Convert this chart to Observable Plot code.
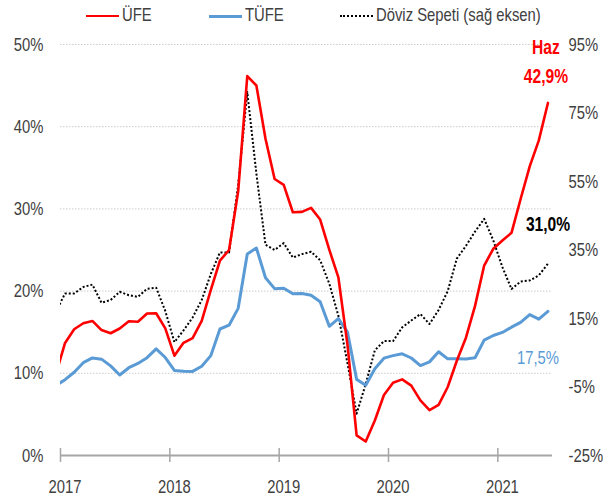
<!DOCTYPE html>
<html>
<head>
<meta charset="utf-8">
<script src="https://cdn.jsdelivr.net/npm/d3@7"></script>
<script src="https://cdn.jsdelivr.net/npm/@observablehq/plot@0.6"></script>
<style>
  html, body { margin: 0; padding: 0; background: #fff; }
  body { font-family: "Liberation Sans", Arial, sans-serif; }
  #legend { position: relative; width: 614px; height: 30px; font-size: 19px; color: #404040; }
  #legend .sw { position: absolute; top: 15px; width: 33px; }
  #legend .lb { position: absolute; top: 4px; line-height: 22px; white-space: nowrap; transform: scaleX(0.78); transform-origin: 0 50%; }
  #chart svg { display: block; }
</style>
</head>
<body>
<div id="legend"></div>
<div id="chart"></div>
<script>
// Monthly annual changes (%), Dec 2016 .. Jun 2021
const firstMonthIndex = -1; // Dec 2016, with Jan 2017 = 0
const ufe = [9.94,
  13.69, 15.36, 16.09, 16.37, 15.26, 14.87, 15.45, 16.34, 16.28, 17.28, 17.30, 15.47,
  12.14, 13.71, 14.28, 16.37, 20.16, 23.71, 25.00, 32.13, 46.15, 45.01, 38.54, 33.64,
  32.93, 29.59, 29.64, 30.12, 28.71, 25.04, 21.66, 13.45, 2.45, 1.70, 4.26, 7.36,
  8.84, 9.26, 8.50, 6.71, 5.53, 6.17, 8.33, 11.53, 14.33, 18.20, 23.11, 25.15,
  26.16, 27.09, 31.20, 35.17, 38.33, 42.89];
const tufe = [8.53,
  9.22, 10.13, 11.29, 11.87, 11.72, 10.90, 9.79, 10.68, 11.20, 11.90, 12.98, 11.92,
  10.35, 10.26, 10.23, 10.85, 12.15, 15.39, 15.85, 17.90, 24.52, 25.24, 21.62, 20.30,
  20.35, 19.67, 19.71, 19.50, 18.71, 15.72, 16.65, 15.01, 9.26, 8.55, 10.56, 11.84,
  12.15, 12.37, 11.86, 10.94, 11.39, 12.62, 11.76, 11.77, 11.75, 11.89, 14.03, 14.60,
  14.97, 15.61, 16.19, 17.14, 16.59, 17.53];
// Döviz Sepeti, right-axis units
const dovizSepeti = [17.0,
  22.3, 22.3, 24.2, 24.9, 19.6, 20.4, 22.8, 21.8, 21.3, 23.7, 24.0, 17.2,
  8.1, 11.5, 15.3, 20.4, 28.0, 34.3, 34.3, 54.0, 81.1, 57.3, 36.5, 35.0,
  37.0, 32.8, 33.8, 34.5, 32.0, 25.2, 15.8, 1.9, -12.8, -4.1, 5.7, 8.4,
  8.4, 12.4, 14.4, 16.3, 13.4, 17.5, 23.0, 32.5, 36.2, 40.4, 44.1, 37.8,
  30.0, 23.6, 25.8, 26.1, 27.6, 31.0];

const years = ["2017", "2018", "2019", "2020", "2021"];
const leftTicks = [0, 10, 20, 30, 40, 50];
const rightTicks = [-25, -5, 15, 35, 55, 75, 95];
const seriesNames = ["ÜFE", "TÜFE", "Döviz Sepeti (sağ eksen)"];
const lastLabel = "Haz";

const RED = "#ff0000", BLUE = "#5b9bd5", BLACK = "#000000";
const FONT = '"Liberation Sans", Arial, sans-serif';
const NARROW = 0.78; // horizontal squeeze to mimic a narrow face

// right axis [-25, 95] <-> left axis [0, 50]
const toLeft = r => (r - rightTicks[0]) * (leftTicks[leftTicks.length - 1] - leftTicks[0]) / (rightTicks[rightTicks.length - 1] - rightTicks[0]);
const toRight = l => rightTicks[0] + l * (rightTicks[rightTicks.length - 1] - rightTicks[0]) / (leftTicks[leftTicks.length - 1] - leftTicks[0]);

const rows = ufe.map((v, i) => ({t: firstMonthIndex + i, ufe: v, tufe: tufe[i], doviz: dovizSepeti[i]}));
const yearTicks = years.map((y, i) => i * 12);
const yearBounds = yearTicks.map(t => t - 0.5);
const last = rows[rows.length - 1];
const fmt = v => v.toFixed(1).replace(".", ",") + "%";

// Legend
const legend = document.getElementById("legend");
const items = [
  {name: seriesNames[0], x: 86, css: `border-top: 2.6px solid ${RED};`},
  {name: seriesNames[1], x: 209, css: `border-top: 3px solid ${BLUE};`},
  {name: seriesNames[2], x: 340, css: `border-top: 2px dotted ${BLACK};`}
];
for (const it of items) {
  const sw = document.createElement("div");
  sw.className = "sw";
  sw.style.cssText = `left:${it.x}px;` + it.css;
  legend.appendChild(sw);
  const lb = document.createElement("div");
  lb.className = "lb";
  lb.style.left = (it.x + 36) + "px";
  lb.textContent = it.name;
  legend.appendChild(lb);
}

const chart = Plot.plot({
  width: 614,
  height: 472,
  marginLeft: 60,
  marginRight: 62,
  marginTop: 14,
  marginBottom: 47,
  x: {domain: [-0.5, 53.5], label: null},
  y: {domain: [leftTicks[0], leftTicks[leftTicks.length - 1]], label: null},
  style: {fontFamily: FONT, fontSize: "19px", color: "#404040", background: "#fff", overflow: "visible"},
  marks: [
    Plot.ruleY(leftTicks.slice(1), {stroke: "#cccccc", strokeWidth: 1, strokeDasharray: "1.5 1.5"}),
    Plot.ruleY([0], {stroke: "#a6a6a6", strokeWidth: 1.8}),
    Plot.ruleX(yearBounds, {y1: -0.85, y2: 0.85, stroke: "#a6a6a6", strokeWidth: 1.5}),
    Plot.axisY({anchor: "left", ticks: leftTicks, tickSize: 0, tickPadding: 17, label: null, tickFormat: d => d + "%"}),
    Plot.axisY({anchor: "right", ticks: rightTicks.map(toLeft), tickSize: 0, tickPadding: 16, label: null,
      tickFormat: d => Math.round(toRight(d)) + "%"}),
    Plot.axisX({ticks: yearTicks, tickSize: 0, tickPadding: 24, label: null, tickFormat: d => years[yearTicks.indexOf(d)]}),
    Plot.line(rows, {x: "t", y: d => toLeft(d.doviz), stroke: BLACK, strokeWidth: 2, strokeDasharray: "2 2", strokeLinecap: "butt", clip: true}),
    Plot.line(rows, {x: "t", y: "tufe", stroke: BLUE, strokeWidth: 3, clip: true}),
    Plot.line(rows, {x: "t", y: "ufe", stroke: RED, strokeWidth: 2.6, clip: true}),
    Plot.text([last], {x: "t", y: "ufe", text: () => lastLabel, dx: -2, dy: -55, fill: RED, fontWeight: "bold", fontSize: 20}),
    Plot.text([last], {x: "t", y: "ufe", text: d => fmt(d.ufe), dx: -2, dy: -26, fill: RED, fontWeight: "bold", fontSize: 20}),
    Plot.text([last], {x: "t", y: d => toLeft(d.doviz), text: d => fmt(d.doviz), textAnchor: "start", dx: -22, dy: -39, fill: BLACK, fontWeight: "bold", fontSize: 20}),
    Plot.text([last], {x: "t", y: "tufe", text: d => fmt(d.tufe), dx: -10, dy: 47, fill: BLUE, fontSize: 19})
  ]
});

// squeeze every text horizontally around its own anchor point
chart.querySelectorAll("text").forEach(t => {
  const tr = t.getAttribute("transform");
  if (tr) {
    t.setAttribute("transform", tr + ` scale(${NARROW},1)`);
  } else {
    const x = +(t.getAttribute("x") || 0), y = +(t.getAttribute("y") || 0);
    t.setAttribute("transform", `translate(${x},${y}) scale(${NARROW},1) translate(${-x},${-y})`);
  }
});
document.getElementById("chart").appendChild(chart);
</script>
</body>
</html>
